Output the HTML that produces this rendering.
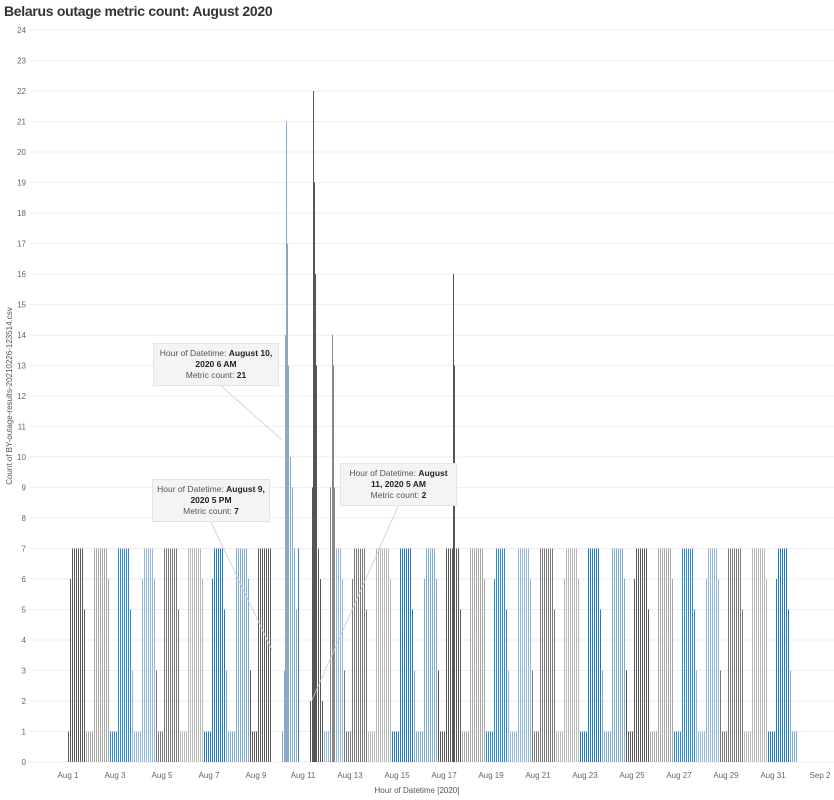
<!DOCTYPE html>
<html><head><meta charset="utf-8"><style>
body{margin:0;background:#fff;font-family:"Liberation Sans",sans-serif}
.t{position:absolute;left:4px;top:3px;font-size:14px;font-weight:bold;color:#333;letter-spacing:-0.3px}
.tip{position:absolute;background:#f4f4f4;border:1px solid #e4e4e4;font-size:8.5px;color:#555;text-align:center;line-height:11px;padding:4px 4px}
.tip b{color:#222}
</style></head><body>
<div class="t">Belarus outage metric count: August 2020</div>
<svg id="s" width="834" height="800" style="position:absolute;left:0;top:0" shape-rendering="crispEdges"></svg>
<div class="tip" style="left:153px;top:343px;width:116px">Hour of Datetime: <b>August 10, 2020 6 AM</b><br>Metric count: <b>21</b></div>
<div class="tip" style="left:152px;top:479px;width:108px">Hour of Datetime: <b>August 9, 2020 5 PM</b><br>Metric count: <b>7</b></div>
<div class="tip" style="left:340px;top:463px;width:107px">Hour of Datetime: <b>August 11, 2020 5 AM</b><br>Metric count: <b>2</b></div>
<script>
var s=document.getElementById('s'),h='';
var y0=762,u=30.5;
function Y(v){return y0-v*u}
for(var i=0;i<=24;i++){h+='<line x1="30" x2="834" y1="'+Y(i)+'" y2="'+Y(i)+'" stroke="#eee"/>';
h+='<text x="26" y="'+(Y(i)+3)+'" font-size="8" fill="#666" text-anchor="end">'+i+'</text>';}
var x0=68,pd=23.5;
var labs=['Aug 1','Aug 3','Aug 5','Aug 7','Aug 9','Aug 11','Aug 13','Aug 15','Aug 17','Aug 19','Aug 21','Aug 23','Aug 25','Aug 27','Aug 29','Aug 31','Sep 2'];
for(var k=0;k<labs.length;k++){var x=x0+k*2*pd;h+='<text x="'+x+'" y="778" font-size="8" fill="#666" text-anchor="middle">'+labs[k]+'</text>';}
h+='<text x="417" y="793" font-size="8" fill="#555" text-anchor="middle">Hour of Datetime [2020]</text>';
h+='<text transform="translate(12,396) rotate(-90)" font-size="8" fill="#555" text-anchor="middle">Count of BY-outage-results-20210226-123514.csv</text>';
var pal=['#5a5a5a','#a8a8a8','#4f7fb8','#9db3cf','#7a7a7a','#b8b8b8','#3f6fa8','#8ea7c6'];
var sp={};
[[282,1],[284,3],[285,14],[286,21],[287,17],[288,13],[289,11],[290,10],[291,11],[292,9],[293,8],[294,7],[295,3],
[309,2],[310,2],[311,7],[312,9],[313,22],[314,19],[315,16],[316,13],[317,9],[318,7],[319,7],[320,6],[321,3],[322,2],
[330,9],[331,8],[332,14],[333,13],[334,9],[335,7],[453,16],[454,13],[455,8]].forEach(function(a){sp[a[0]]=a[1]});
for(var x=68;x<=797;x++){
 var hr=Math.floor((x-x0)*24/pd),d=Math.floor(hr/24),ph=hr%24,v,c;
 if(sp[x]!==undefined){v=sp[x];
  if((x%2)==1&&v<13)continue;
  c=x<300?'#8ea7c6':(x<326?'#555':(x<340?'#888':'#555'));}
 else{
  if((x%2)==1)continue;
  if(ph<2)v=1;else if(ph<4)v=(d%3==0?6:7);else if(ph<15)v=7;else if(ph<17)v=(d%2?6:5);else if(ph<18)v=3;else v=1;
  if(hr>=208&&hr<226)v=0;
  if(hr>=226&&hr<240)v=(hr%3==0?7:(hr<236?5:1));
  if(hr>=236&&hr<246)v=0;
  if(hr>=246&&hr<=256)v=1;
  c=pal[(d+(ph>16?1:0))%8];
 }
 if(v<=0)continue;
 h+='<rect x="'+x+'" y="'+Y(v)+'" width="1" height="'+(v*u)+'" fill="'+c+'"/>';
}
h+='<line x1="220" y1="385" x2="282" y2="440" stroke="#ccc" stroke-width="0.8" shape-rendering="auto"/>';
h+='<line x1="210" y1="520" x2="272" y2="650" stroke="#ccc" stroke-width="0.8" shape-rendering="auto"/>';
h+='<line x1="400" y1="502" x2="312" y2="700" stroke="#ccc" stroke-width="0.8" shape-rendering="auto"/>';
s.innerHTML=h;
</script>
</body></html>
